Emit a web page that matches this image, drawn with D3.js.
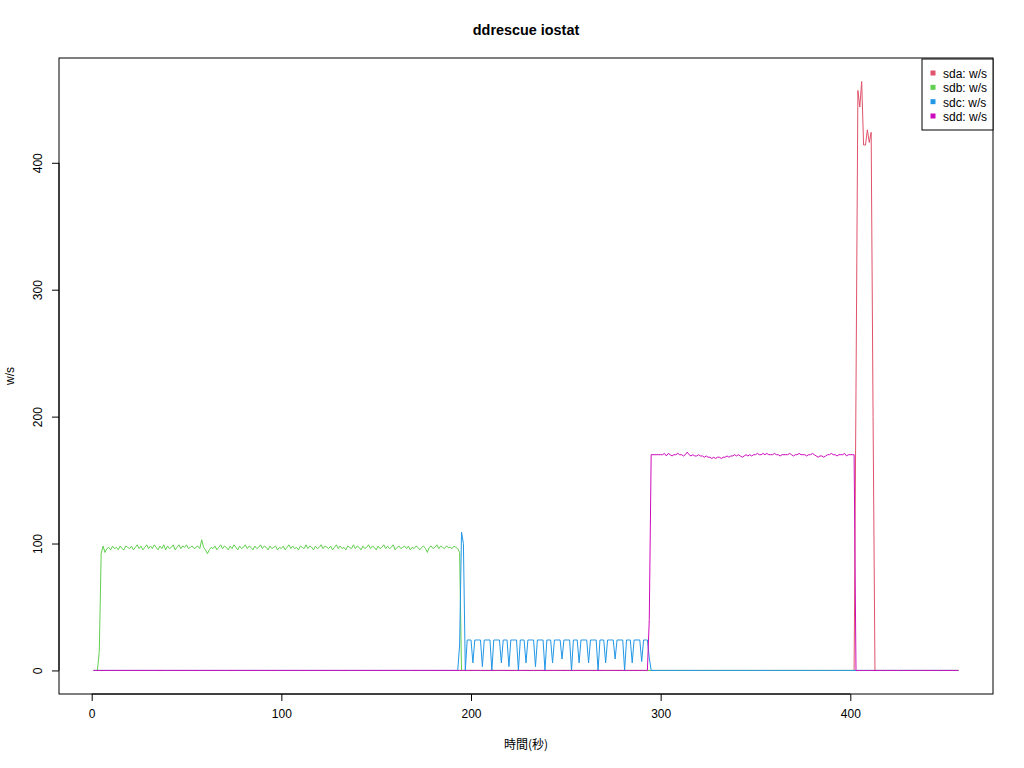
<!DOCTYPE html>
<html>
<head>
<meta charset="utf-8">
<script src="https://cdn.jsdelivr.net/npm/d3@7"></script>
<style>
  html, body { margin: 0; padding: 0; background: #fff; }
  text { font-family: "Liberation Sans", Arial, Helvetica, sans-serif; }
</style>
</head>
<body>
<svg id="chart" width="1024" height="768"></svg>
<script>
// ---- data (one value per second, t = 1..457) ----
const seriesNames = ["sda: w/s", "sdb: w/s", "sdc: w/s", "sdd: w/s"];
const seriesColors = ["#DF536B", "#61D04F", "#2297E6", "#CD0BBC"];
const xTicks = [0, 100, 200, 300, 400];
const yTicks = [0, 100, 200, 300, 400];

const sda = [
0,0,0,0,0,0,0,0,0,0, 0,0,0,0,0,0,0,0,0,0, 0,0,0,0,0,0,0,0,0,0, 0,0,0,0,0,0,0,0,0,0, 0,0,0,0,0,0,0,0,0,0,
0,0,0,0,0,0,0,0,0,0, 0,0,0,0,0,0,0,0,0,0, 0,0,0,0,0,0,0,0,0,0, 0,0,0,0,0,0,0,0,0,0, 0,0,0,0,0,0,0,0,0,0,
0,0,0,0,0,0,0,0,0,0, 0,0,0,0,0,0,0,0,0,0, 0,0,0,0,0,0,0,0,0,0, 0,0,0,0,0,0,0,0,0,0, 0,0,0,0,0,0,0,0,0,0,
0,0,0,0,0,0,0,0,0,0, 0,0,0,0,0,0,0,0,0,0, 0,0,0,0,0,0,0,0,0,0, 0,0,0,0,0,0,0,0,0,0, 0,0,0,0,0,0,0,0,0,0,
0,0,0,0,0,0,0,0,0,0, 0,0,0,0,0,0,0,0,0,0, 0,0,0,0,0,0,0,0,0,0, 0,0,0,0,0,0,0,0,0,0, 0,0,0,0,0,0,0,0,0,0,
0,0,0,0,0,0,0,0,0,0, 0,0,0,0,0,0,0,0,0,0, 0,0,0,0,0,0,0,0,0,0, 0,0,0,0,0,0,0,0,0,0, 0,0,0,0,0,0,0,0,0,0,
0,0,0,0,0,0,0,0,0,0, 0,0,0,0,0,0,0,0,0,0, 0,0,0,0,0,0,0,0,0,0, 0,0,0,0,0,0,0,0,0,0, 0,0,0,0,0,0,0,0,0,0,
0,0,0,0,0,0,0,0,0,0, 0,0,0,0,0,0,0,0,0,0, 0,0,0,0,0,0,0,0,0,0, 0,0,0,0,0,0,0,0,0,0, 0,0,0,0,0,0,0,0,0,0,
0,0,
220,457,444,464,414,414,426,416,424,200,
0,0,0,0,0,0,0,0,0,0, 0,0,0,0,0,0,0,0,0,0, 0,0,0,0,0,0,0,0,0,0, 0,0,0,0,0,0,0,0,0,0, 0,0,0,0,0
];

const sdb = [
0,0,0,15,92,
98,93,96,97,95,98,96,97,95,98,
96,95,98,97,96,98,95,97,99,96,
98,95,97,99,96,98,96,99,97,95,
98,96,99,95,98,96,97,99,95,97,
99,96,98,97,99,96,97,98,96,97,
98,96,103,97,95,92,95,97,96,98,
95,97,99,96,98,97,95,98,96,99,
97,95,98,96,97,99,96,98,97,95,
98,96,97,99,96,98,97,95,98,96,
97,98,95,97,96,98,95,97,99,96,
98,96,97,95,98,97,96,99,96,98,
97,95,98,96,97,99,96,98,97,96,
98,95,97,99,96,98,96,97,95,98,
97,96,99,96,98,97,95,98,96,97,
99,96,98,97,95,98,96,97,99,96,
98,96,97,99,95,97,98,96,97,98,
96,98,95,97,96,98,97,95,97,98,
96,93,97,98,96,97,99,96,98,97,
96,98,97,97,96,98,97,96,
93,
0,0,0,0,0,0,0,0,0,0, 0,0,0,0,0,0,0,0,0,0, 0,0,0,0,0,0,0,0,0,0, 0,0,0,0,0,0,0,0,0,0, 0,0,0,0,0,0,0,0,0,0,
0,0,0,0,0,0,0,0,0,0, 0,0,0,0,0,0,0,0,0,0, 0,0,0,0,0,0,0,0,0,0, 0,0,0,0,0,0,0,0,0,0, 0,0,0,0,0,0,0,0,0,0,
0,0,0,0,0,0,0,0,0,0, 0,0,0,0,0,0,0,0,0,0, 0,0,0,0,0,0,0,0,0,0, 0,0,0,0,0,0,0,0,0,0, 0,0,0,0,0,0,0,0,0,0,
0,0,0,0,0,0,0,0,0,0, 0,0,0,0,0,0,0,0,0,0, 0,0,0,0,0,0,0,0,0,0, 0,0,0,0,0,0,0,0,0,0, 0,0,0,0,0,0,0,0,0,0,
0,0,0,0,0,0,0,0,0,0, 0,0,0,0,0,0,0,0,0,0, 0,0,0,0,0,0,0,0,0,0, 0,0,0,0,0,0,0,0,0,0, 0,0,0,0,0,0,0,0,0,0,
0,0,0,0,0,0,0,0,0,0, 0,0,0
];

const sdc = [
0,0,0,0,0,0,0,0,0,0, 0,0,0,0,0,0,0,0,0,0, 0,0,0,0,0,0,0,0,0,0, 0,0,0,0,0,0,0,0,0,0, 0,0,0,0,0,0,0,0,0,0,
0,0,0,0,0,0,0,0,0,0, 0,0,0,0,0,0,0,0,0,0, 0,0,0,0,0,0,0,0,0,0, 0,0,0,0,0,0,0,0,0,0, 0,0,0,0,0,0,0,0,0,0,
0,0,0,0,0,0,0,0,0,0, 0,0,0,0,0,0,0,0,0,0, 0,0,0,0,0,0,0,0,0,0, 0,0,0,0,0,0,0,0,0,0, 0,0,0,0,0,0,0,0,0,0,
0,0,0,0,0,0,0,0,0,0, 0,0,0,0,0,0,0,0,0,0, 0,0,0,0,0,0,0,0,0,0, 0,0,0,0,0,0,0,0,0,0, 0,0,0,
20,109,100,0,
24,24,24,6,24,24,24,24,3,24,
24,24,24,0,24,24,24,24,6,24,
24,24,3,24,24,24,24,0,24,24,
24,6,24,24,24,24,3,24,24,24,
24,0,24,24,24,6,24,24,24,24,
9,24,24,24,24,0,24,24,24,6,
24,24,24,24,6,24,24,24,24,0,
24,24,24,6,24,24,24,24,9,24,
24,24,24,0,24,24,24,6,24,24,
24,24,7,24,24,24,
10,
0,0,0,0,0,0,0,0,0,0, 0,0,0,0,0,0,0,0,0,0, 0,0,0,0,0,0,0,0,0,0, 0,0,0,0,0,0,0,0,0,0, 0,0,0,0,0,0,0,0,0,0,
0,0,0,0,0,0,0,0,0,0, 0,0,0,0,0,0,0,0,0,0, 0,0,0,0,0,0,0,0,0,0, 0,0,0,0,0,0,0,0,0,0, 0,0,0,0,0,0,0,0,0,0,
0,0,0,0,0,0,0,0,0,0, 0,0,0,0,0,0,0,0,0,0, 0,0,0,0,0,0,0,0,0,0, 0,0,0,0,0,0,0,0,0,0, 0,0,0,0,0,0,0,0,0,0,
0,0,0,0,0,0,0,0,0,0, 0,0,0
];

const sdd = [
0,0,0,0,0,0,0,0,0,0, 0,0,0,0,0,0,0,0,0,0, 0,0,0,0,0,0,0,0,0,0, 0,0,0,0,0,0,0,0,0,0, 0,0,0,0,0,0,0,0,0,0,
0,0,0,0,0,0,0,0,0,0, 0,0,0,0,0,0,0,0,0,0, 0,0,0,0,0,0,0,0,0,0, 0,0,0,0,0,0,0,0,0,0, 0,0,0,0,0,0,0,0,0,0,
0,0,0,0,0,0,0,0,0,0, 0,0,0,0,0,0,0,0,0,0, 0,0,0,0,0,0,0,0,0,0, 0,0,0,0,0,0,0,0,0,0, 0,0,0,0,0,0,0,0,0,0,
0,0,0,0,0,0,0,0,0,0, 0,0,0,0,0,0,0,0,0,0, 0,0,0,0,0,0,0,0,0,0, 0,0,0,0,0,0,0,0,0,0, 0,0,0,0,0,0,0,0,0,0,
0,0,0,0,0,0,0,0,0,0, 0,0,0,0,0,0,0,0,0,0, 0,0,0,0,0,0,0,0,0,0, 0,0,0,0,0,0,0,0,0,0, 0,0,0,0,0,0,0,0,0,0,
0,0,0,0,0,0,0,0,0,0, 0,0,0,0,0,0,0,0,0,0, 0,0,0,0,0,0,0,0,0,0, 0,0,0,0,0,0,0,0,0,0, 0,0,0,
40,
170,170,170,170,170,170,170,171,169,171,
170,169,170,170,171,170,170,169,170,172,
170,169,170,169,169,170,169,169,168,169,
168,168,167,168,167,168,168,167,168,168,
169,168,169,169,170,169,170,169,168,169,
170,169,170,169,170,170,171,170,170,171,
170,171,170,170,170,171,170,170,169,170,
170,170,170,171,170,169,170,170,171,170,
170,170,169,170,170,171,170,169,168,169,
169,168,169,170,170,171,170,170,169,170,
170,170,171,169,170,170,170,170,
0,0,0,0,0,0,0,0,0,0, 0,0,0,0,0,0,0,0,0,0, 0,0,0,0,0,0,0,0,0,0, 0,0,0,0,0,0,0,0,0,0, 0,0,0,0,0,0,0,0,0,0,
0,0,0,0,0
];

const seriesValues = [sda, sdb, sdc, sdd];

// ---- layout ----
const svg = d3.select("#chart");
const plot = { left: 59, right: 993, top: 58, bottom: 694 };

const nPts = d3.max(seriesValues, s => s.length);
const xMin = 1, xMax = nPts;
const yMin = 0, yMax = d3.max(seriesValues, s => d3.max(s));
const xPad = (xMax - xMin) * 0.04, yPad = (yMax - yMin) * 0.04;

const x = d3.scaleLinear().domain([xMin - xPad, xMax + xPad]).range([plot.left, plot.right]);
const y = d3.scaleLinear().domain([yMin - yPad, yMax + yPad]).range([plot.bottom, plot.top]);

svg.append("rect").attr("width", 1024).attr("height", 768).attr("fill", "#fff");

// lines
const line = d3.line().x((d, i) => x(i + 1)).y(d => y(d));
const lineG = svg.append("g");
seriesValues.forEach((vals, k) => {
  lineG.append("path")
    .datum(vals)
    .attr("d", line)
    .attr("fill", "none")
    .attr("stroke", seriesColors[k])
    .attr("stroke-width", 1)
    .attr("stroke-linejoin", "round");
});

// box
svg.append("rect")
  .attr("x", plot.left).attr("y", plot.top)
  .attr("width", plot.right - plot.left).attr("height", plot.bottom - plot.top)
  .attr("fill", "none").attr("stroke", "#000").attr("stroke-width", 1);

// x axis
const xAxis = d3.axisBottom(x).tickValues(xTicks).tickSize(7).tickPadding(8).tickFormat(d3.format("d"));
const gx = svg.append("g").attr("transform", `translate(0,${plot.bottom})`).call(xAxis);
gx.select(".domain").remove();
gx.append("line")
  .attr("x1", x(xTicks[0])).attr("x2", x(xTicks[xTicks.length - 1]))
  .attr("y1", 0).attr("y2", 0).attr("stroke", "#000");
gx.selectAll("text").attr("font-size", 12).attr("fill", "#000")
  .style("font-family", '"Liberation Sans", Arial, sans-serif');

// y axis
const yAxis = d3.axisLeft(y).tickValues(yTicks).tickSize(7).tickFormat(d3.format("d"));
const gy = svg.append("g").attr("transform", `translate(${plot.left},0)`).call(yAxis);
gy.select(".domain").remove();
gy.append("line")
  .attr("y1", y(yTicks[0])).attr("y2", y(yTicks[yTicks.length - 1]))
  .attr("x1", 0).attr("x2", 0).attr("stroke", "#000");
gy.selectAll(".tick text")
  .attr("x", null).attr("dy", null)
  .attr("text-anchor", "middle")
  .attr("transform", "translate(-17,0) rotate(-90)")
  .attr("font-size", 12).attr("fill", "#000")
  .style("font-family", '"Liberation Sans", Arial, sans-serif');

// title and labels
svg.append("text")
  .attr("x", (plot.left + plot.right) / 2).attr("y", 35)
  .attr("text-anchor", "middle").attr("font-weight", "bold").attr("font-size", 14.4)
  .text("ddrescue iostat");
svg.append("text")
  .attr("x", (plot.left + plot.right) / 2).attr("y", 749)
  .attr("text-anchor", "middle").attr("font-size", 12)
  .style("font-family", '"Noto Sans CJK JP", "Liberation Sans", sans-serif')
  .text("時間(秒)");
svg.append("text")
  .attr("transform", `translate(14,${(plot.top + plot.bottom) / 2}) rotate(-90)`)
  .attr("text-anchor", "middle").attr("font-size", 12)
  .text("w/s");

// legend
const leg = { x: 922, y: 59, w: 71, h: 71 };
svg.append("rect")
  .attr("x", leg.x).attr("y", leg.y).attr("width", leg.w).attr("height", leg.h)
  .attr("fill", "#fff").attr("stroke", "#000").attr("stroke-width", 1);
const rowY = d3.scalePoint().domain(seriesNames).range([73.5, 116.5]);
const legRows = svg.append("g").selectAll("g").data(seriesNames).join("g")
  .attr("transform", d => `translate(0,${rowY(d)})`);
legRows.append("rect")
  .attr("x", 930.5).attr("y", -3).attr("width", 5).attr("height", 5)
  .attr("fill", (d, i) => seriesColors[i]);
legRows.append("text")
  .attr("x", 943).attr("y", 4.5).attr("font-size", 12)
  .text(d => d);
</script>
</body>
</html>
